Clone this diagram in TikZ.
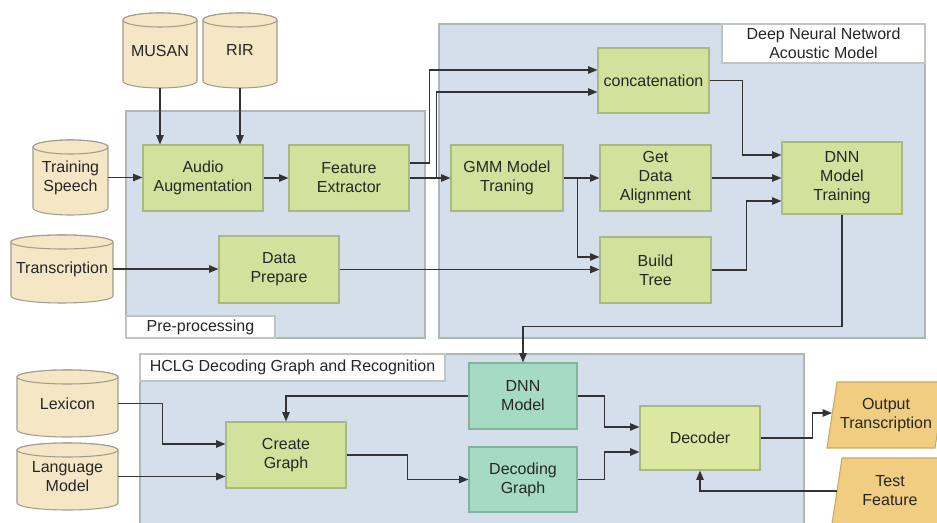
\documentclass[tikz,border=0pt]{standalone}
\usepackage{fontspec}
\setmainfont{Liberation Sans}
\usetikzlibrary{arrows.meta,calc}
\definecolor{panelc}{HTML}{D5DFEB}
\definecolor{panelb}{HTML}{AEB8AE}
\definecolor{greenc}{HTML}{D2E29C}
\definecolor{greenb}{HTML}{A9B982}
\definecolor{tealc}{HTML}{A5DBC2}
\definecolor{tealb}{HTML}{82B49C}
\definecolor{decc}{HTML}{DCE8A2}
\definecolor{cylc}{HTML}{F5E7C6}
\definecolor{cylb}{HTML}{A39D8C}
\definecolor{orc}{HTML}{F0CD80}
\definecolor{orb}{HTML}{C9AA66}
\definecolor{linec}{HTML}{333333}
\definecolor{txtc}{HTML}{262626}
\newcommand\bx[7]{\node[#6, minimum width={(#4-#2)*0.75pt}, minimum height={(#5-#3)*0.75pt}] (#1) at ({(#2+#4)/2},{(#3+#5)/2}) {#7};}
\newcommand\cyl[6]{%
  \path[cylstyle] (#2,#3+7) -- (#2,#5-7) arc[start angle=180,end angle=0,x radius={(#4-#2)/2},y radius=7] -- (#4,#3+7) arc[start angle=0,end angle=-180,x radius={(#4-#2)/2},y radius=7] -- cycle;
  \path[cylstyle] ({(#2+#4)/2},#3+7) ellipse[x radius={(#4-#2)/2},y radius=7];
  \bx{#1}{#2}{#3}{#4}{#5}{txt}{#6}}
\begin{document}
\begin{tikzpicture}[x=0.75pt,y=-0.75pt,
  font=\fontsize{12pt}{14.3pt}\selectfont,
  txt/.style={inner sep=0pt, align=center, text=txtc},
  panel/.style={txt, draw=panelb, fill=panelc, line width=1pt},
  lbl/.style={txt, draw=panelb!80, fill=white, line width=0.8pt},
  gbox/.style={txt, draw=greenb, fill=greenc, line width=0.8pt},
  tbox/.style={txt, draw=tealb, fill=tealc, line width=0.8pt},
  dbox/.style={txt, draw=greenb, fill=decc, line width=0.8pt},
  cylstyle/.style={draw=cylb, fill=cylc, line width=0.8pt},
  parstyle/.style={draw=orb, fill=orc, line width=0.8pt},
  arr/.style={draw=linec, line width=1.1pt, -{Triangle[length=7pt,width=5.5pt]}},
  ]
\useasboundingbox (0,0) rectangle (937,523);
\clip (0,0) rectangle (937,523);
% panels
\bx{pre}{126}{111}{425}{338}{panel}{}
\bx{dnnp}{439}{24}{925}{338}{panel}{}
\bx{hclg}{140}{354}{804}{540}{panel}{}
\bx{prel}{126}{316}{275}{338}{lbl}{Pre-processing}
\bx{dnnl}{722}{24}{925}{63}{lbl}{Deep Neural Netword\\Acoustic Model}
\bx{hclgl}{140}{354}{445}{381}{lbl}{HCLG Decoding Graph and Recognition}
% cylinders
\cyl{musan}{123}{13}{197}{88}{MUSAN}
\cyl{rir}{203}{13}{277}{88}{RIR}
\cyl{ts}{33}{140}{108}{215}{Training\\Speech}
\cyl{tr}{11}{235}{113}{303}{Transcription}
\cyl{lex}{17}{370}{118}{437}{Lexicon}
\cyl{lm}{17}{443}{118}{510}{Language\\Model}
% boxes
\bx{aug}{143}{145}{263}{211}{gbox}{Audio\\Augmentation}
\bx{fe}{289}{145}{409}{211}{gbox}{Feature\\Extractor}
\bx{dp}{219}{236}{339}{303}{gbox}{Data\\Prepare}
\bx{gmm}{451}{145}{563}{211}{gbox}{GMM Model\\Traning}
\bx{concat}{598}{48}{709}{113}{gbox}{concatenation}
\bx{gda}{600}{145}{711}{211}{gbox}{Get\\Data\\Alignment}
\bx{bt}{600}{237}{711}{303}{gbox}{Build\\Tree}
\bx{dnnt}{782}{142}{902}{214}{gbox}{DNN\\Model\\Training}
\bx{dnnm}{469}{363}{577}{429}{tbox}{DNN\\Model}
\bx{dg}{469}{447}{577}{512}{tbox}{Decoding\\Graph}
\bx{cg}{226}{422}{346}{488}{gbox}{Create\\Graph}
\bx{dec}{640}{406}{760}{470}{dbox}{Decoder}
% parallelograms
\path[parstyle] (827,448) -- (935,448) -- (945,382) -- (837,382) -- cycle;
\node[txt] (outp) at (886,415) {Output\\Transcription};
\coordinate (outin) at (832,413);
\path[parstyle] (832,524) -- (940,524) -- (950,458) -- (842,458) -- cycle;
\node[txt] (testf) at (890,491) {Test\\Feature};
\coordinate (testout) at (837,491);
% connectors
\draw[arr] (musan.south) -- (musan.south |- aug.north);
\draw[arr] (rir.south) -- (rir.south |- aug.north);
\draw[arr] (ts.east) -- (ts.east -| aug.west);
\draw[arr] (tr.east) -- (tr.east -| dp.west);
\draw[arr] (aug.east) -- (fe.west);
\draw[arr] ($(fe.east)+(0,-15)$) -- ++(20,0) |- ($(concat.west)+(0,-10.5)$);
\draw[arr] (fe.east) -- (gmm.west);
\draw[arr] ($(fe.east)+(27,0)$) |- ($(concat.west)+(0,11.5)$);
\draw[arr] (gmm.east) -- (gda.west);
\draw[arr] ($(gmm.east)+(14,0)$) |- ($(bt.west)+(0,-13)$);
\draw[arr] (dp.east) -- (dp.east -| bt.west);
\draw[arr] (gda.east) -- (gda.east -| dnnt.west);
\draw[arr] (concat.east) -- ++(33,0) |- ($(dnnt.west)+(0,-23)$);
\draw[arr] (bt.east) -- ++(35,0) |- ($(dnnt.west)+(0,23)$);
\draw[arr] (dnnt.south) -- ++(0,112) -| (dnnm.north);
\draw[arr] (dnnm.west) -| (cg.north);
\draw[arr] (lex.east) -- ++(44,0) |- ($(cg.west)+(0,-11)$);
\draw[arr] (lm.east) -- (lm.east -| cg.west);
\draw[arr] (cg.east) -- ++(61,0) |- (dg.west);
\draw[arr] (dnnm.east) -- ++(27,0) |- ($(dec.west)+(0,-11)$);
\draw[arr] (dg.east) -- ++(27,0) |- ($(dec.west)+(0,14)$);
\draw[arr] (dec.east) -- ++(52,0) |- (outin);
\draw[arr] (testout) -| (dec.south);
\end{tikzpicture}
\end{document}
